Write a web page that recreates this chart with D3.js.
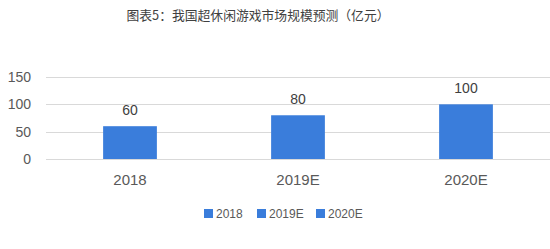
<!DOCTYPE html>
<html>
<head>
<meta charset="utf-8">
<script src="https://cdn.jsdelivr.net/npm/d3@7/dist/d3.min.js"></script>
<style>
body { margin: 0; background: #fff; }
svg { display: block; font-family: "Noto Sans CJK SC", "Liberation Sans", sans-serif; }
</style>
</head>
<body>
<div id="chartDiv"></div>
<script>
let categories = ["2018", "2019E", "2020E"];
let values = [60, 80, 100];
let yTicks = [0, 50, 100, 150];
let titleText = "图表5：我国超休闲游戏市场规模预测（亿元）";

let svgWidth = 550, svgHeight = 249;
let barColor = "#3a7ddb";

let svg = d3.select("#chartDiv").append("svg")
	.attr("width", svgWidth)
	.attr("height", svgHeight);

svg.append("text")
	.attr("x", 258)
	.attr("y", 20)
	.attr("text-anchor", "middle")
	.attr("font-size", 12.8)
	.attr("fill", "#404040")
	.text(titleText);

let xScale = d3.scaleBand()
	.domain(categories)
	.range([46, 550])
	.paddingInner(0.68)
	.paddingOuter(0.34);

let yScale = d3.scaleLinear()
	.domain([0, 150])
	.range([159, 77]);

// gridlines
svg.append("g").selectAll("line")
	.data(yTicks)
	.enter().append("line")
	.attr("x1", 46)
	.attr("x2", 550)
	.attr("y1", d => Math.round(yScale(d)) + 0.5)
	.attr("y2", d => Math.round(yScale(d)) + 0.5)
	.attr("stroke", "#d9d9d9")
	.attr("stroke-width", 1);

// y axis labels
let yAxis = d3.axisLeft(yScale).tickValues(yTicks).tickSize(0).tickPadding(0);
let yG = svg.append("g")
	.attr("transform", "translate(31,0)")
	.call(yAxis);
yG.select(".domain").remove();
yG.selectAll("text").attr("font-size", 14).attr("fill", "#595959")
	.attr("font-family", "'Liberation Sans', sans-serif");

// x axis labels
let xAxis = d3.axisBottom(xScale).tickSize(0).tickPadding(0);
let xG = svg.append("g")
	.attr("transform", "translate(0,174)")
	.call(xAxis);
xG.select(".domain").remove();
xG.selectAll("text").attr("font-size", 15).attr("fill", "#595959")
	.attr("font-family", "'Liberation Sans', sans-serif");

// bars
svg.append("g").selectAll("rect")
	.data(values)
	.enter().append("rect")
	.attr("x", (d, i) => xScale(categories[i]))
	.attr("y", d => yScale(d))
	.attr("width", xScale.bandwidth())
	.attr("height", d => yScale(0) - yScale(d))
	.attr("fill", barColor);

// value labels
svg.append("g").selectAll("text")
	.data(values)
	.enter().append("text")
	.attr("x", (d, i) => xScale(categories[i]) + xScale.bandwidth() / 2)
	.attr("y", d => yScale(d) - 11)
	.attr("text-anchor", "middle")
	.attr("font-size", 14)
	.attr("fill", "#404040")
	.attr("font-family", "'Liberation Sans', sans-serif")
	.text(d => d);

// legend
let legendX = [204, 257, 316];
let legend = svg.append("g").selectAll("g")
	.data(categories)
	.enter().append("g")
	.attr("transform", (d, i) => "translate(" + legendX[i] + ",209)");
legend.append("rect")
	.attr("width", 9).attr("height", 9)
	.attr("fill", barColor);
legend.append("text")
	.attr("x", 12).attr("y", 9)
	.attr("font-size", 12)
	.attr("fill", "#595959")
	.attr("font-family", "'Liberation Sans', sans-serif")
	.text(d => d);
</script>
</body>
</html>
